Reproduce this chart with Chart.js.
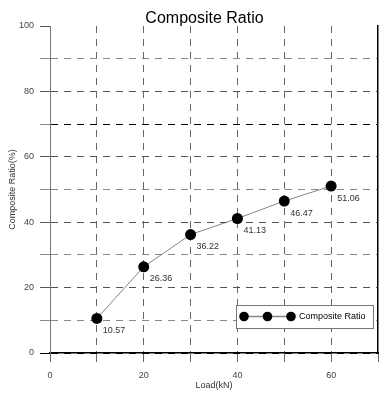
<!DOCTYPE html>
<html>
<head>
<meta charset="utf-8">
<script src="https://cdn.jsdelivr.net/npm/chart.js@4/dist/chart.umd.min.js"></script>
<style>
  html, body { margin: 0; padding: 0; background: #fff; }
  #wrap { width: 391px; height: 394px; }
</style>
</head>
<body>
<div id="wrap"><canvas id="chart"></canvas></div>
<script>
// --------------------
// Data
// --------------------
const loads = [10, 20, 30, 40, 50, 60];
const ratios = [10.57, 26.36, 36.22, 41.13, 46.47, 51.06];
const seriesName = 'Composite Ratio';

const FONT = '"Liberation Sans", Arial, sans-serif';

// --------------------
// Value labels under each point
// --------------------
const valueLabels = {
  id: 'valueLabels',
  afterDatasetsDraw(chart) {
    const ctx = chart.ctx;
    const meta = chart.getDatasetMeta(0);
    ctx.save();
    ctx.font = '9px ' + FONT;
    ctx.fillStyle = '#333';
    ctx.textAlign = 'left';
    ctx.textBaseline = 'middle';
    meta.data.forEach((pt, i) => {
      ctx.fillText(ratios[i].toFixed(2), pt.x + 6, pt.y + 12);
    });
    ctx.restore();
  }
};

// --------------------
// Legend box (line with three markers)
// --------------------
const boxLegend = {
  id: 'boxLegend',
  afterDraw(chart) {
    const ctx = chart.ctx;
    const area = chart.chartArea;
    const x0 = area.right - 142, y0 = area.bottom - 48, w = 137, h = 23;
    const cy = y0 + h / 2;
    ctx.save();
    ctx.fillStyle = '#fff';
    ctx.fillRect(x0, y0, w, h);
    ctx.strokeStyle = '#777';
    ctx.lineWidth = 1;
    ctx.strokeRect(x0 + 0.5, y0 + 0.5, w, h);
    ctx.strokeStyle = '#888';
    ctx.lineWidth = 1.5;
    ctx.beginPath();
    ctx.moveTo(x0 + 8, cy);
    ctx.lineTo(x0 + 55, cy);
    ctx.stroke();
    ctx.fillStyle = '#000';
    [8, 31.5, 55].forEach(dx => {
      ctx.beginPath();
      ctx.arc(x0 + dx, cy, 4.8, 0, Math.PI * 2);
      ctx.fill();
    });
    ctx.font = '9px ' + FONT;
    ctx.textBaseline = 'middle';
    ctx.fillText(chart.data.datasets[0].label, x0 + 63, cy + 0.5);
    ctx.restore();
  }
};

// --------------------
// Grid colours
// --------------------
function yGridColor(c) {
  const v = c.tick.value;
  if (v === 100) return 'rgba(0,0,0,0)';
  if (v === 0 || v === 70) return '#000';
  return v % 20 === 0 ? '#555' : '#888';
}
function xGridColor(c) {
  const v = c.tick.value;
  if (v === 0 || v === 70) return 'rgba(0,0,0,0)';
  return '#666';
}

new Chart(document.getElementById('chart'), {
  type: 'line',
  data: {
    datasets: [{
      label: seriesName,
      data: loads.map((x, i) => ({ x, y: ratios[i] })),
      borderColor: '#666',
      borderWidth: 0.8,
      pointRadius: 5.5,
      pointBackgroundColor: '#000',
      pointBorderColor: '#000',
      pointBorderWidth: 0,
      tension: 0
    }]
  },
  options: {
    responsive: true,
    maintainAspectRatio: false,
    animation: false,
    layout: { padding: { left: 18, right: 0, top: 0, bottom: 0 } },
    plugins: {
      legend: { display: false },
      tooltip: { enabled: false },
      title: {
        display: true,
        text: 'Composite Ratio',
        color: '#000',
        font: { family: FONT, size: 16, weight: 'normal', lineHeight: 0.9 },
        padding: { top: 11.6, bottom: 0 }
      }
    },
    scales: {
      x: {
        type: 'linear',
        min: 0,
        max: 70,
        afterFit: s => { s.height = 41; },
        ticks: {
          stepSize: 10,
          autoSkip: false,
          maxRotation: 0,
          padding: 8,
          color: '#444',
          font: { family: FONT, size: 9 },
          callback: v => (v % 20 === 0 ? v : '')
        },
        grid: {
          color: xGridColor,
          tickColor: '#666',
          tickLength: 9,
          lineWidth: 1
        },
        border: { color: '#000', width: 1.5, dash: [7, 6] },
        title: {
          display: true,
          text: 'Load(kN)',
          color: '#333',
          font: { family: FONT, size: 9 },
          padding: { top: 0, bottom: 2.6 }
        }
      },
      y: {
        min: 0,
        max: 100,
        afterFit: s => { s.width = 32; },
        ticks: {
          stepSize: 10,
          autoSkip: false,
          padding: 6,
          color: '#444',
          font: { family: FONT, size: 9 },
          callback: v => (v % 20 === 0 ? v : '')
        },
        grid: {
          color: yGridColor,
          tickColor: c => (c.tick.value === 0 ? '#000' : (c.tick.value % 20 === 0 ? '#555' : '#888')),
          tickLength: 10,
          lineWidth: 1
        },
        border: { color: '#777', width: 1, dash: [7, 6] },
        title: {
          display: true,
          text: 'Composite Ratio(%)',
          color: '#333',
          font: { family: FONT, size: 9 },
          padding: { top: -10.9, bottom: 0 }
        }
      },
      y2: {
        position: 'right',
        min: 0,
        max: 100,
        afterFit: s => { s.width = 13; },
        ticks: { display: false },
        grid: { display: false, drawTicks: false },
        border: { color: '#000', width: 1.5 }
      }
    }
  },
  plugins: [valueLabels, boxLegend]
});
</script>
</body>
</html>
